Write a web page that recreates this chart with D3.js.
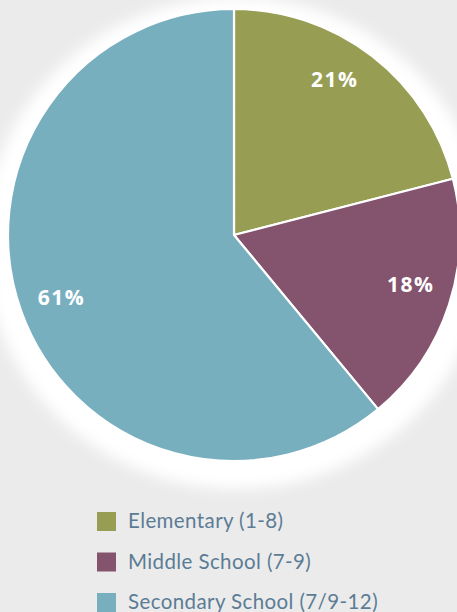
<!DOCTYPE html>
<html>
<head>
<meta charset="utf-8">
<script src="https://cdn.jsdelivr.net/npm/d3@7"></script>
<style>
  html, body { margin: 0; padding: 0; background: #ebebeb; }
  svg { display: block; }
</style>
</head>
<body>
<div id="chart"></div>
<script>
// data
var categories = ["Elementary (1-8)", "Middle School (7-9)", "Secondary School (7/9-12)"];
var shares = [21, 18, 61];
var colours = ["#979e53", "#84546f", "#78afbf"];
// small angular nudges (radians) so labels sit where the original put them
var labelNudge = [-0.08, -0.03, -0.01];

var width = 457, height = 612;
var cx = 234, cy = 235, radius = 226;

var svg = d3.select("#chart").append("svg")
    .attr("width", width)
    .attr("height", height);

// soft white halo behind the pie
var defs = svg.append("defs");
var blur = defs.append("filter").attr("id", "halo")
    .attr("x", "-30%").attr("y", "-30%").attr("width", "160%").attr("height", "160%");
blur.append("feGaussianBlur").attr("stdDeviation", 7);

svg.append("rect")
    .attr("width", width).attr("height", height)
    .attr("fill", "#ebebeb");

svg.append("ellipse")
    .attr("cx", cx + 2).attr("cy", cy + 8)
    .attr("rx", radius + 26).attr("ry", radius + 20)
    .attr("fill", "#ffffff")
    .attr("filter", "url(#halo)");

var g = svg.append("g")
    .attr("transform", "translate(" + cx + "," + cy + ")");

var pie = d3.pie().sort(null).value(function (d) { return d; });
var arcs = pie(shares);

var arc = d3.arc().innerRadius(0).outerRadius(radius);
var labelR = 184;

g.selectAll("path.slice")
    .data(arcs)
    .enter().append("path")
    .attr("class", "slice")
    .attr("d", arc)
    .attr("fill", function (d, i) { return colours[i]; })
    .attr("stroke", "#ffffff")
    .attr("stroke-width", 2.2)
    .attr("stroke-linejoin", "round");

g.selectAll("text.pct")
    .data(arcs)
    .enter().append("text")
    .attr("class", "pct")
    .attr("transform", function (d, i) {
        var a = (d.startAngle + d.endAngle) / 2 + labelNudge[i];
        var x = Math.sin(a) * labelR, y = -Math.cos(a) * labelR;
        return "translate(" + x + "," + (y + 5.5) + ")";
    })
    .attr("text-anchor", "middle")
    .attr("fill", "#ffffff")
    .attr("font-family", "'Open Sans', sans-serif")
    .attr("font-weight", 700)
    .attr("font-size", "21px")
    .attr("letter-spacing", "1.5px")
    .text(function (d) { return d.data + "%"; });

// legend
var legend = svg.append("g")
    .attr("transform", "translate(97,512)");

var item = legend.selectAll("g.item")
    .data(categories)
    .enter().append("g")
    .attr("class", "item")
    .attr("transform", function (d, i) { return "translate(0," + (i * 40.5) + ")"; });

item.append("rect")
    .attr("width", 19).attr("height", 19)
    .attr("fill", function (d, i) { return colours[i]; });

item.append("text")
    .attr("x", 31)
    .attr("y", 16)
    .attr("fill", "#5b7c95")
    .attr("font-family", "Lato, 'Open Sans', sans-serif")
    .attr("font-size", "20.5px")
    .attr("letter-spacing", "0.4px")
    .text(function (d) { return d; });
</script>
</body>
</html>
